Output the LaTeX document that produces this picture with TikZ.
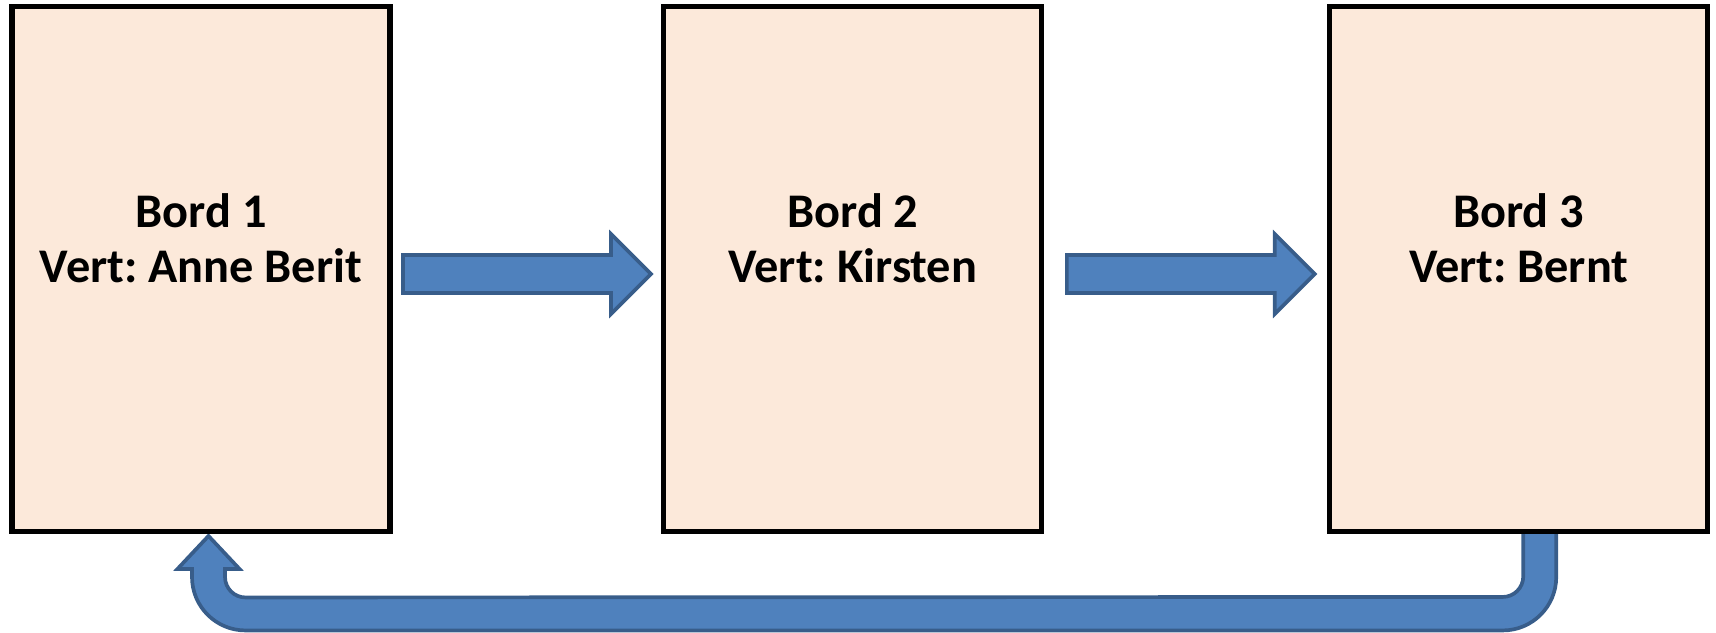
\documentclass[tikz,border=0pt]{standalone}
\usepackage{xcolor}
\usepackage{fontspec}
\setmainfont{Carlito}
\frenchspacing
\usepackage{tikz}
\usetikzlibrary{positioning,calc,backgrounds}
\definecolor{boardfill}{HTML}{FCE9DA}
\definecolor{arrowfill}{HTML}{4F81BD}
\definecolor{arrowline}{HTML}{385D8A}
\tikzset{
    board/.style={rectangle, draw=black, fill=boardfill, line width=2.9pt, outer sep=0pt, minimum width=7.56cm, minimum height=10.5cm, align=center, font=\fontsize{27.5}{31}\selectfont\bfseries},
    blockarrow/.style={draw=arrowline, fill=arrowfill, line width=2.1pt, line join=miter}
}

\begin{document}
\begin{tikzpicture}[x=0.02cm, y=-0.02cm]
    \useasboundingbox (0,0) rectangle (1716,632);
    \node[board] (b1) at (201,269) {Bord 1\\Vert: Anne Berit\\[-5pt]\strut};
    \node[board, right=5.48cm of b1] (b2) {Bord 2\\Vert: Kirsten\\[-5pt]\strut};
    \node[board, right=5.76cm of b2] (b3) {Bord 3\\Vert: Bernt\\[-5pt]\strut};
    \begin{scope}[on background layer]
    \draw[blockarrow] ($(b1.east)+(13,-14)$) -- ($(b2.west)+(-53,-14)$) -- ($(b2.west)+(-53,-35)$) -- ($(b2.west)+(-13,5)$) -- ($(b2.west)+(-53,45)$) -- ($(b2.west)+(-53,24)$) -- ($(b1.east)+(13,24)$) -- cycle;
    \draw[blockarrow] ($(b2.east)+(25,-14)$) -- ($(b3.west)+(-55,-14)$) -- ($(b3.west)+(-55,-35)$) -- ($(b3.west)+(-15,5)$) -- ($(b3.west)+(-55,45)$) -- ($(b3.west)+(-55,24)$) -- ($(b2.east)+(25,24)$) -- cycle;
    \draw[blockarrow] ($(b3.south)+(4.5,0)$) -- ($(b3.south)+(4.5,45)$) arc[start angle=0, end angle=90, radius=20.5]
        -- ($(b1.south)+(44.5,66)$) arc[start angle=90, end angle=180, radius=20.5]
        -- ($(b1.south)+(24,37.5)$) -- ($(b1.south)+(38.5,37.5)$) -- ($(b1.south)+(7.5,4.5)$) -- ($(b1.south)+(-23.5,37.5)$) -- ($(b1.south)+(-9,37.5)$)
        -- ($(b1.south)+(-9,45.5)$) arc[start angle=180, end angle=90, radius=53.5]
        -- ($(b3.south)+(-16,99)$) arc[start angle=90, end angle=0, radius=53.5]
        -- ($(b3.south)+(37.5,0)$) -- cycle;
    \end{scope}
\end{tikzpicture}
\end{document}
